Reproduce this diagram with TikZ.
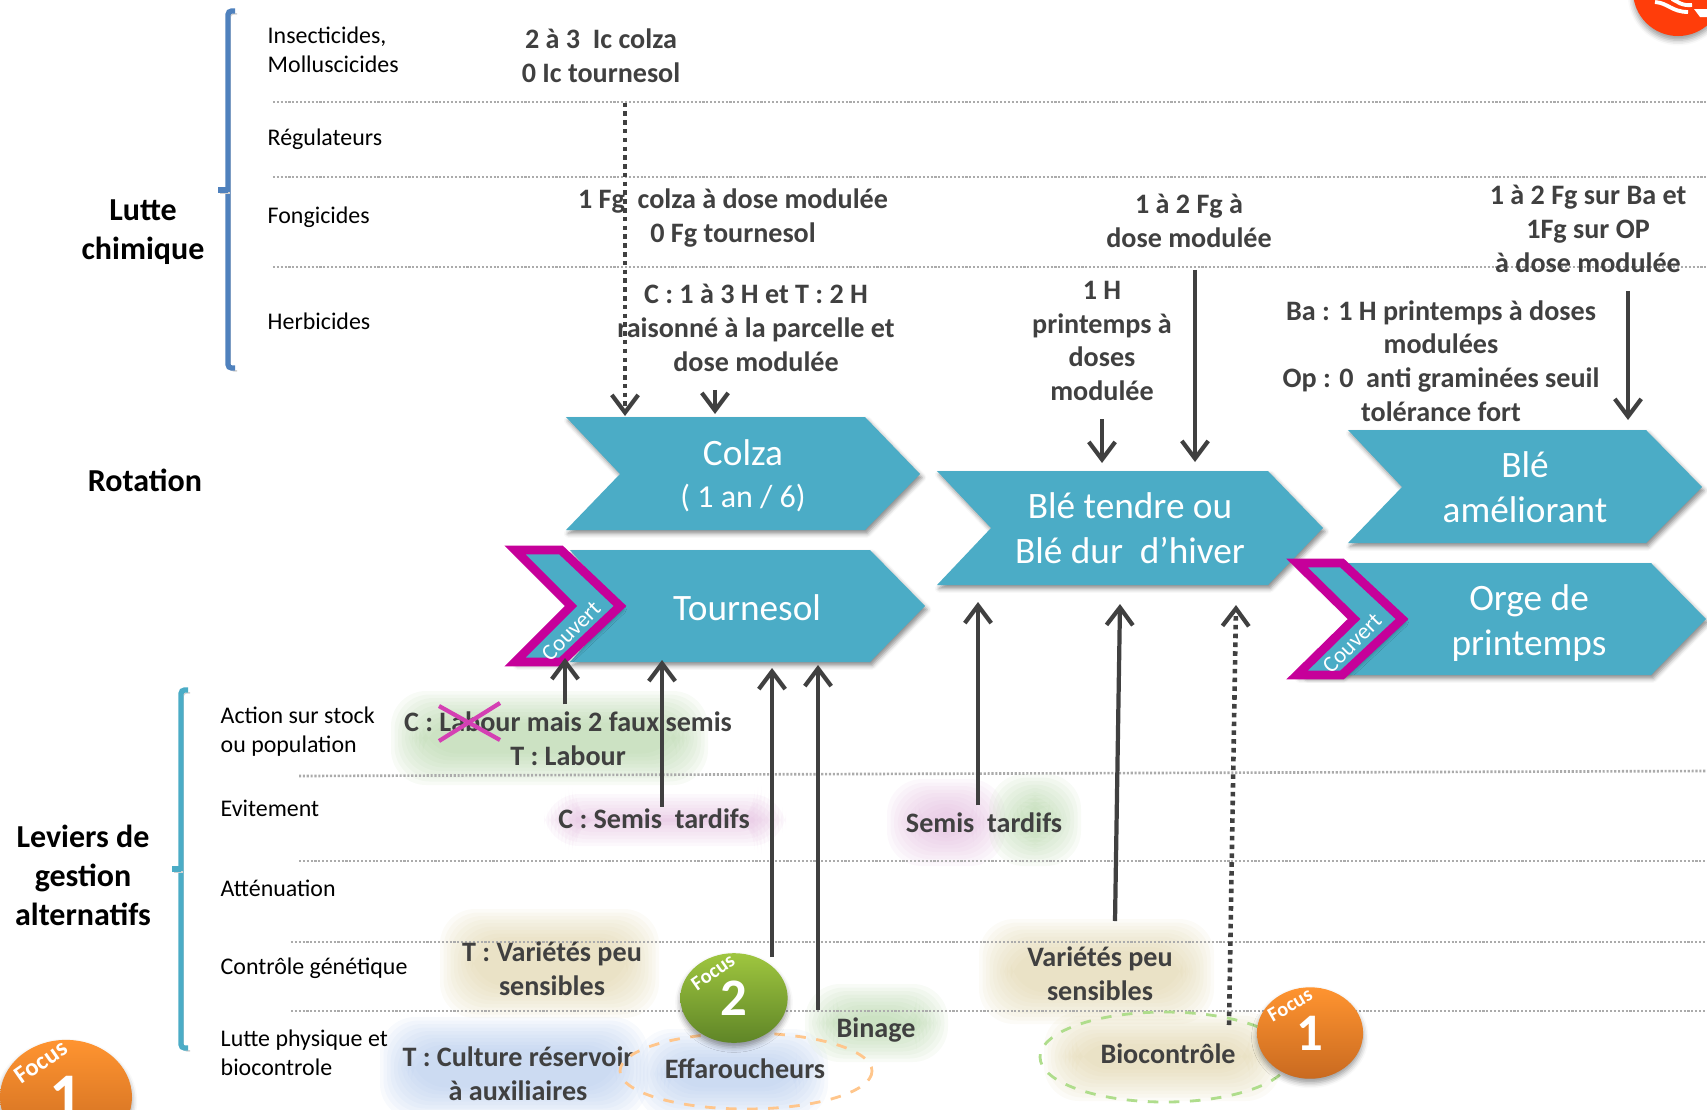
\documentclass[tikz,border=0pt]{standalone}
\usepackage{fontspec}
\setmainfont{Carlito}
\usepackage{tikz}
\usetikzlibrary{shadows.blur}
\usetikzlibrary{arrows.meta}
\usetikzlibrary{shapes.geometric}
\definecolor{teal}{HTML}{4BACC6}
\definecolor{pinkc}{HTML}{C6009A}
\definecolor{darkt}{HTML}{404040}
\definecolor{bluebr}{HTML}{4F81BD}
\definecolor{dotg}{HTML}{ABABAB}
\definecolor{smgreen}{HTML}{A9CE9A}
\definecolor{smpink}{HTML}{DDB0D8}
\definecolor{smbeige}{HTML}{DCCFA0}
\definecolor{smblue}{HTML}{A9C2EA}
\definecolor{orgtop}{HTML}{FF9430}
\definecolor{orgbot}{HTML}{C96A20}
\definecolor{grntop}{HTML}{9FC63F}
\definecolor{grnbot}{HTML}{5F8527}
\definecolor{redball}{HTML}{FF3D0A}
\tikzset{cat/.style={anchor=west,align=left,inner sep=0pt,font=\fontsize{6.8}{8.3}\selectfont}}
\tikzset{head/.style={align=center,inner sep=0pt,font=\fontsize{9.1}{11.1}\selectfont\bfseries}}
\tikzset{txt/.style={align=center,inner sep=2pt,text=darkt,font=\fontsize{8}{9.6}\selectfont\bfseries}}
\tikzset{chev/.style={fill=teal,blur shadow={shadow xshift=0.6pt,shadow yshift=-1pt,shadow blur radius=1.2pt,shadow opacity=45}}}
\tikzset{cover/.style={fill=teal,draw=pinkc,line width=2.5pt,miter limit=4,blur shadow={shadow xshift=0.6pt,shadow yshift=-1pt,shadow blur radius=1.2pt,shadow opacity=45}}}
\tikzset{chevtxt/.style={align=center,text=white,inner sep=0pt,font=\fontsize{10.6}{12.8}\selectfont}}
\tikzset{covtxt/.style={text=white,rotate=45,inner sep=0pt,font=\fontsize{6.5}{7}\selectfont}}
\tikzset{sepline/.style={draw=dotg,line width=0.75pt,dash pattern=on 0.6pt off 0.5pt}}
\tikzset{brack/.style={line width=1.5pt,rounded corners=1pt,preaction={draw=black!18,transform canvas={shift={(0.6pt,-0.8pt)}}}}}
\tikzset{arr/.style={draw=darkt,line width=1.2pt,-{Straight Barb[length=5pt,width=7.5pt,line width=1.2pt]}}}
\tikzset{dotarr/.style={draw=darkt,line width=1.3pt,dash pattern=on 1.3pt off 1.2pt,-{Straight Barb[length=5pt,width=7.5pt,line width=1.2pt]}}}
\tikzset{ball/.style={ellipse,inner sep=0pt,text=white,font=\bfseries,blur shadow={shadow xshift=0pt,shadow yshift=-1.2pt,shadow blur radius=1.5pt,shadow opacity=40}}}
\tikzset{orangeball/.style={ball,top color=orgtop,bottom color=orgbot}}
\tikzset{focustxt/.style={text=white,inner sep=0pt,font=\fontsize{5.8}{6}\selectfont\bfseries}}
% soft coloured patch behind a text
\newcommand{\smudge}[5]{\foreach \st in {0,...,9} {\fill[#5,opacity=0.085,rounded corners=10] ({#1-6+\st*3.5},{#2-6+\st*3.5}) rectangle ({#1+#3+6-\st*3.5},{#2+#4+6-\st*3.5});}}
\begin{document}
\begin{tikzpicture}[x=0.01cm,y=-0.01cm]
	\path[use as bounding box,clip] (0,0) rectangle (1707,1109);

	\smudge{397}{697}{305}{82}{smgreen}
	\smudge{550}{800}{230}{40}{smpink}
	\smudge{893}{785}{106}{75}{smpink}
	\smudge{995}{780}{80}{80}{smgreen}
	\smudge{446}{915}{207}{97}{smbeige}
	\smudge{985}{925}{223}{93}{smbeige}
	\smudge{1050}{1018}{225}{77}{smbeige}
	\smudge{386}{1023}{256}{90}{smblue}
	\smudge{642}{1035}{180}{78}{smblue}
	\smudge{811}{990}{131}{66}{smgreen}

% % % separators
	\draw[sepline] (273,102) -- (1707,102);
	\draw[sepline] (273,177) -- (1707,177);
	\draw[sepline] (273,267) -- (1707,267);
	\draw[sepline] (299,776) -- (1707,771);
	\draw[sepline] (299,861) -- (1707,861);
	\draw[sepline] (291,942) -- (1707,942);
	\draw[sepline] (291,1011) -- (1707,1011);

% % % brackets
	\draw[brack,draw=bluebr] (235,11) -- (228,11) -- (228,368) -- (235,368);
	\draw[brack,draw=bluebr] (218,190) -- (228,190);
	\draw[brack,draw=teal] (188,690) -- (181,690) -- (181,1048) -- (188,1048);
	\draw[brack,draw=teal] (172,869) -- (181,869);

	\node[head] (lutte) at (143,232) {Lutte\\chimique};
	\node[head] (rota) at (145,480) {Rotation};
	\node[head] (leviers) at (83,875) {Leviers de\\gestion\\alternatifs};

	\node[cat] (insect) at (267,50) {Insecticides,\\Molluscicides};
	\node[cat] (regul) at (267,139) {Régulateurs};
	\node[cat] (fongi) at (267,217) {Fongicides};
	\node[cat] (herbi) at (267,321) {Herbicides};

	\node[cat] (action) at (220,732) {Action sur stock\\ou population};
	\node[cat] (evit) at (220,808) {Evitement};
	\node[cat] (atten) at (220,888) {Atténuation};
	\node[cat] (genet) at (220,968) {Contrôle génétique};
	\node[cat] (physi) at (220,1053) {Lutte physique et\\biocontrole};

% % % chevrons
	\fill[chev] (566,417) -- (865,417) -- (920,474) -- (865,530) -- (566,530) -- (620,474) -- cycle;
	\fill[chev] (937,471) -- (1268,471) -- (1323,528) -- (1268,585) -- (937,585) -- (991,528) -- cycle;
	\fill[chev] (1348,430) -- (1646,430) -- (1702,487) -- (1646,543) -- (1348,543) -- (1402,487) -- cycle;
	\fill[chev] (570,550) -- (870,550) -- (925,606) -- (870,662) -- (570,662) -- (620,606) -- cycle;
	\fill[chev] (1305,563) -- (1651,563) -- (1706,619) -- (1651,675) -- (1305,675) -- (1402,619) -- cycle;
	\draw[cover] (515,550) -- (561,550) -- (620,606) -- (561,662) -- (515,662) -- (571,606) -- cycle;
	\draw[cover] (1297,563) -- (1342,563) -- (1402,619) -- (1342,675) -- (1297,675) -- (1354,619) -- cycle;

	\node[chevtxt] (colza) at (743,476) {Colza\\[-1pt]\fontsize{9.1}{11}\selectfont ( 1 an / 6)};
	\node[chevtxt] (bletendre) at (1130,528) {Blé tendre ou\\Blé dur~ d’hiver};
	\node[chevtxt] (bleam) at (1525,487) {Blé\\améliorant};
	\node[chevtxt] (tourn) at (747,608) {Tournesol};
	\node[chevtxt] (orge) at (1529,623) {Orge de\\printemps};
	\node[covtxt] (couv1) at (571,631) {Couvert};
	\node[covtxt] (couv2) at (1352,643) {Couvert};

% % % treatments
	\node[txt] (ic) at (601,56) {2 à 3~ Ic colza\\0 Ic tournesol};
	\node[txt] (fg1) at (733,218) {1 Fg~ colza à dose modulée\\0 Fg tournesol};
	\node[txt] (fg2) at (1189,221) {1 à 2 Fg à\\dose modulée};
	\node[txt] (fg3) at (1588,229) {1 à 2 Fg sur Ba et\\1Fg sur OP\\à dose modulée};
	\node[txt] (h1) at (756,328) {C : 1 à 3 H et T : 2 H\\raisonné à la parcelle et\\dose modulée};
	\node[txt] (h2) at (1102,341) {1 H\\printemps à\\doses\\modulée};
	\node[txt] (h3) at (1441,361) {Ba : 1 H printemps à doses\\modulées\\Op : 0~ anti graminées seuil\\tolérance fort};

% % % levers
	\node[txt] (labour) at (568,739) {C : Labour mais 2 faux semis\\T : Labour};
	\node[txt] (semisc) at (654,819) {C : Semis~ tardifs};
	\node[txt] (semis) at (984,823) {Semis~ tardifs};
	\node[txt] (varT) at (552,969) {T : Variétés peu\\sensibles};
	\node[txt] (var) at (1100,974) {Variétés peu\\sensibles};
	\node[txt] (culture) at (518,1074) {T : Culture réservoir\\à auxiliaires};
	\node[txt] (effar) at (745,1069) {Effaroucheurs};
	\node[txt] (binage) at (876,1030) {Binage};
	\node[txt] (bioc) at (1168,1054) {Biocontrôle};

	\draw[draw=orange!45!white,dashed,line width=0.8pt] (746,1071) ellipse (126 and 38);
	\draw[draw=green!40!olive!45!white,dashed,line width=0.8pt] (1165,1057) ellipse (125 and 45);

	\draw[draw=pinkc!75!white,line width=1.2pt] (439,706) -- (500,740);
	\draw[draw=pinkc!75!white,line width=1.2pt] (439,741) -- (500,703);

% % % focus discs
	\node[orangeball,minimum width=37.5pt,minimum height=32.5pt,font=\fontsize{18.5}{20}\selectfont\bfseries] (foc1a) at (66,1097) {1};
	\node[ball,top color=grntop,bottom color=grnbot,minimum width=30.5pt,minimum height=25.5pt,font=\fontsize{15}{16}\selectfont\bfseries] (foc2) at (734,998) {2};
	\node[orangeball,minimum width=30.2pt,minimum height=26pt,font=\fontsize{15}{16}\selectfont\bfseries] (foc1b) at (1310,1033) {1};
	\node[focustxt,rotate=35,font=\fontsize{7}{8}\selectfont\bfseries] (ftxt1) at (41,1062) {Focus};
	\node[focustxt,rotate=35] (ftxt2) at (713,972) {Focus};
	\node[focustxt,rotate=30] (ftxt3) at (1290,1005) {Focus};
	\node[ball,fill=redball,minimum width=25.6pt,minimum height=25.6pt] (foc0) at (1678,-9) {};
	\draw[white,line width=1.1pt] (1655,2) .. controls (1668,3) and (1672,12) .. (1688,12);
	\draw[white,line width=1.1pt] (1672,-1) .. controls (1678,2) and (1682,6) .. (1692,5);
	\fill[white] (1694,9) -- (1707,9) -- (1707,17) -- (1700,17) -- cycle;

% % % arrows
	\coordinate (pcolza) at (625,416);
	\coordinate (pcolzb) at (715,414);
	\coordinate (pbta) at (1102,463);
	\coordinate (pbtb) at (1195,462);
	\coordinate (pbam) at (1628,420);
	\draw[dotarr,shorten <=3.4pt] (ic.south -| pcolza) -- (pcolza);
	\draw[arr,shorten <=3pt] (h1.south -| pcolzb) -- (pcolzb);
	\draw[arr,shorten <=3pt] (h2.south -| pbta) -- (pbta);
	\draw[arr,shorten <=4pt] (fg2.south -| pbtb) -- (pbtb);
	\draw[arr,shorten <=3pt] (fg3.south -| pbam) -- (pbam);

	\coordinate (ptoa) at (565,658);
	\coordinate (ptob) at (662,660);
	\coordinate (ptoc) at (772,668);
	\coordinate (ptod) at (818,665);
	\coordinate (pble) at (978,602);
	\coordinate (pblf) at (1120,604);
	\coordinate (pblg) at (1236,605);
	\coordinate (svar) at (1115,921);
	\coordinate (sbio) at (1229,1025);
	\draw[arr] (labour.north -| ptoa) -- (ptoa);
	\draw[arr,shorten <=-1.5pt] (semisc.north -| ptob) -- (ptob);
	\draw[arr] (foc2.60 -| ptoc) -- (ptoc);
	\draw[arr] (binage.north -| ptod) -- (ptod);
	\draw[arr] (semis.north -| pble) -- (pble);
	\draw[arr] (svar) -- (pblf);
	\draw[dotarr] (sbio) -- (pblg);
\end{tikzpicture}
\end{document}
